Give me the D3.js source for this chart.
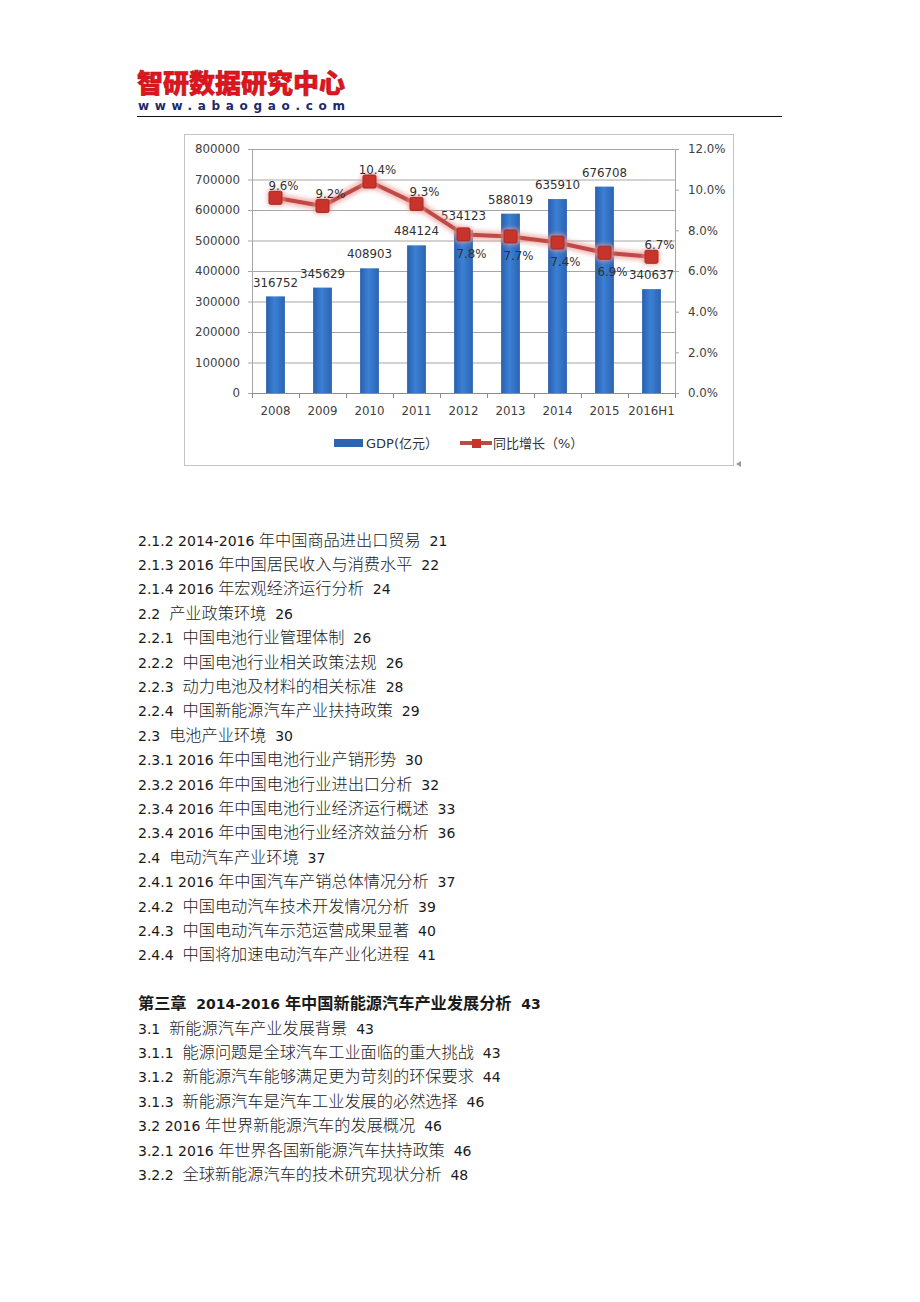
<!DOCTYPE html>
<html>
<head>
<meta charset="utf-8">
<script src="https://cdn.jsdelivr.net/npm/d3@7"></script>
<style>
html,body{margin:0;padding:0;background:#fff;}
svg{display:block;}
</style>
</head>
<body>
<div id="root"></div>
<script>
// ---------- DATA ----------
const brandName = "智研数据研究中心";
const brandUrl = "www.abaogao.com";
const categories = ["2008","2009","2010","2011","2012","2013","2014","2015","2016H1"];
const gdpValues = [316752,345629,408903,484124,534123,588019,635910,676708,340637];
const growthValues = [9.6,9.2,10.4,9.3,7.8,7.7,7.4,6.9,6.7];
const leftTicks = [0,100000,200000,300000,400000,500000,600000,700000,800000];
const rightTicks = [0,2,4,6,8,10,12];
const seriesNames = ["GDP(亿元）","同比增长（%）"];
const tocLines = [
  "2.1.2 2014-2016 年中国商品进出口贸易  21",
  "2.1.3 2016 年中国居民收入与消费水平  22",
  "2.1.4 2016 年宏观经济运行分析  24",
  "2.2  产业政策环境  26",
  "2.2.1  中国电池行业管理体制  26",
  "2.2.2  中国电池行业相关政策法规  26",
  "2.2.3  动力电池及材料的相关标准  28",
  "2.2.4  中国新能源汽车产业扶持政策  29",
  "2.3  电池产业环境  30",
  "2.3.1 2016 年中国电池行业产销形势  30",
  "2.3.2 2016 年中国电池行业进出口分析  32",
  "2.3.4 2016 年中国电池行业经济运行概述  33",
  "2.3.4 2016 年中国电池行业经济效益分析  36",
  "2.4  电动汽车产业环境  37",
  "2.4.1 2016 年中国汽车产销总体情况分析  37",
  "2.4.2  中国电动汽车技术开发情况分析  39",
  "2.4.3  中国电动汽车示范运营成果显著  40",
  "2.4.4  中国将加速电动汽车产业化进程  41",
  "",
  "第三章  2014-2016 年中国新能源汽车产业发展分析  43",
  "3.1  新能源汽车产业发展背景  43",
  "3.1.1  能源问题是全球汽车工业面临的重大挑战  43",
  "3.1.2  新能源汽车能够满足更为苛刻的环保要求  44",
  "3.1.3  新能源汽车是汽车工业发展的必然选择  46",
  "3.2 2016 年世界新能源汽车的发展概况  46",
  "3.2.1 2016 年世界各国新能源汽车扶持政策  46",
  "3.2.2  全球新能源汽车的技术研究现状分析  48"
];

// ---------- DRAW ----------
const W = 920, H = 1302;
const svg = d3.select("#root").append("svg").attr("width", W).attr("height", H)
  .style("font-family", "'DejaVu Sans', 'Noto Sans CJK SC', sans-serif");
const defs = svg.append("defs");

// header
svg.append("text").attr("x", 137).attr("y", 93)
  .attr("textLength", 208).attr("lengthAdjust", "spacingAndGlyphs")
  .style("font-family", "'Noto Sans CJK SC', sans-serif")
  .style("font-size", "26px").style("font-weight", 900)
  .attr("fill", "#e3141c").attr("stroke", "#b0101a").attr("stroke-width", 0.6)
  .text(brandName);
svg.append("text").attr("x", 138).attr("y", 110)
  .attr("textLength", 207).attr("lengthAdjust", "spacing")
  .style("font-size", "12px").style("font-weight", "bold")
  .attr("fill", "#1b2a6b").text(brandUrl);
svg.append("line").attr("x1", 137).attr("x2", 782).attr("y1", 116.5).attr("y2", 116.5)
  .attr("stroke", "#111").attr("stroke-width", 1.2);

// chart frame
svg.append("rect").attr("x", 184.5).attr("y", 134.5).attr("width", 549).attr("height", 331)
  .attr("fill", "#fff").attr("stroke", "#c4c4c4").attr("stroke-width", 1);
svg.append("path").attr("d", "M741,461 L736,464 L741,467 Z").attr("fill", "#9a9a9a");

const plotL = 252, plotR = 675, plotT = 149, plotB = 393;
const x = d3.scaleBand().domain(categories).range([plotL, plotR]).paddingInner(0.6).paddingOuter(0.3);
const yL = d3.scaleLinear().domain([0, 800000]).range([plotB, plotT]);
const yR = d3.scaleLinear().domain([0, 12]).range([plotB, plotT]);
const step = x.step();

// gridlines + left axis
const gL = svg.append("g").attr("transform", `translate(${plotL},0)`)
  .call(d3.axisLeft(yL).tickValues(leftTicks).tickSize(-(plotR - plotL)).tickPadding(12).tickFormat(d3.format("d")));
gL.select(".domain").remove();
gL.selectAll(".tick line").attr("stroke", "#a6a6a6").attr("x1", -4);
gL.selectAll(".tick text").attr("fill", "#404040").style("font-size", "11.8px")
  .style("font-family", "'DejaVu Sans', sans-serif").attr("x", -12);

// vertical axis lines
svg.append("line").attr("x1", plotL + 0.5).attr("x2", plotL + 0.5).attr("y1", plotT).attr("y2", plotB).attr("stroke", "#a6a6a6");
svg.append("line").attr("x1", plotR + 0.5).attr("x2", plotR + 0.5).attr("y1", plotT).attr("y2", plotB).attr("stroke", "#a6a6a6");

// right axis
const gR = svg.append("g").attr("transform", `translate(${plotR},0)`)
  .call(d3.axisRight(yR).tickValues(rightTicks).tickSize(4).tickPadding(9).tickFormat(d => d3.format(".1f")(d) + "%"));
gR.select(".domain").remove();
gR.selectAll(".tick line").attr("stroke", "#a6a6a6");
gR.selectAll(".tick text").attr("fill", "#404040").style("font-size", "11.8px")
  .style("font-family", "'DejaVu Sans', sans-serif");

// bottom axis
const gB = svg.append("g").attr("transform", `translate(0,${plotB})`)
  .call(d3.axisBottom(x).tickSize(0).tickPadding(14));
gB.select(".domain").attr("stroke", "#8c8c8c");
gB.selectAll(".tick text").attr("fill", "#404040").style("font-size", "11.8px")
  .style("font-family", "'DejaVu Sans', sans-serif");
svg.append("g").selectAll("line").data(d3.range(categories.length + 1)).join("line")
  .attr("x1", i => plotL + i * step + 0.5).attr("x2", i => plotL + i * step + 0.5)
  .attr("y1", plotB).attr("y2", plotB + 5).attr("stroke", "#8c8c8c");

// bar gradient
const grad = defs.append("linearGradient").attr("id", "barGrad").attr("x1", "0").attr("x2", "1").attr("y1", "0").attr("y2", "0");
grad.append("stop").attr("offset", "0%").attr("stop-color", "#2a5fae");
grad.append("stop").attr("offset", "45%").attr("stop-color", "#3b80d4");
grad.append("stop").attr("offset", "100%").attr("stop-color", "#2c63b2");

svg.append("g").selectAll("rect").data(gdpValues).join("rect")
  .attr("x", (d, i) => x(categories[i]))
  .attr("y", d => yL(d))
  .attr("width", x.bandwidth())
  .attr("height", d => plotB - yL(d))
  .attr("fill", "url(#barGrad)");

svg.append("g").selectAll("text").data(gdpValues).join("text")
  .attr("x", (d, i) => x(categories[i]) + x.bandwidth() / 2)
  .attr("y", d => yL(d) - 14)
  .attr("dy", "0.35em")
  .attr("text-anchor", "middle")
  .attr("fill", "#303030").style("font-size", "11.8px")
  .text(d => d);

// line glow
const blur = defs.append("filter").attr("id", "glow").attr("x", "-20%").attr("y", "-50%").attr("width", "140%").attr("height", "200%");
blur.append("feGaussianBlur").attr("stdDeviation", 2.2);

const cx = i => x(categories[i]) + x.bandwidth() / 2;
const lineGen = d3.line().x((d, i) => cx(i)).y(d => yR(d));
svg.append("path").datum(growthValues).attr("d", lineGen)
  .attr("fill", "none").attr("stroke", "#e89a94").attr("stroke-width", 9).attr("opacity", 0.7)
  .attr("filter", "url(#glow)");
svg.append("path").datum(growthValues).attr("d", lineGen)
  .attr("fill", "none").attr("stroke", "#bf4a45").attr("stroke-width", 4).attr("stroke-linejoin", "round");

const ms = 13;
svg.append("g").selectAll("rect.glowm").data(growthValues).join("rect")
  .attr("x", (d, i) => cx(i) - ms / 2 - 2).attr("y", d => yR(d) - ms / 2 - 2)
  .attr("width", ms + 4).attr("height", ms + 4).attr("rx", 4)
  .attr("fill", "#e8a09a").attr("opacity", 0.7).attr("filter", "url(#glow)");
svg.append("g").selectAll("rect.mk").data(growthValues).join("rect")
  .attr("x", (d, i) => cx(i) - ms / 2).attr("y", d => yR(d) - ms / 2)
  .attr("width", ms).attr("height", ms).attr("rx", 1.5)
  .attr("fill", "#c8332c").attr("stroke", "#a52a24").attr("stroke-width", 1);

const belowIdx = new Set([4, 5, 6, 7]);
svg.append("g").selectAll("text").data(growthValues).join("text")
  .attr("x", (d, i) => cx(i) + 8)
  .attr("y", (d, i) => yR(d) + (belowIdx.has(i) ? 19 : -12))
  .attr("dy", "0.35em")
  .attr("text-anchor", "middle")
  .attr("fill", "#303030").style("font-size", "11.8px")
  .text(d => d3.format(".1f")(d) + "%");

// legend
svg.append("rect").attr("x", 334).attr("y", 439).attr("width", 29).attr("height", 8).attr("fill", "#2c64b3");
svg.append("text").attr("x", 366).attr("y", 443).attr("dy", "0.35em")
  .attr("fill", "#333").style("font-size", "13px").text(seriesNames[0]);
svg.append("line").attr("x1", 460).attr("x2", 492).attr("y1", 443).attr("y2", 443)
  .attr("stroke", "#bf4a45").attr("stroke-width", 4);
svg.append("rect").attr("x", 472).attr("y", 439).attr("width", 9).attr("height", 9)
  .attr("fill", "#c8332c");
svg.append("text").attr("x", 493).attr("y", 443).attr("dy", "0.35em")
  .attr("fill", "#333").style("font-size", "13px").text(seriesNames[1]);

// ---------- TOC text ----------
const isCJK = ch => /[\u3000-\u9fff\uff00-\uffef]/.test(ch);
function runs(s) {
  const out = [];
  for (const ch of s) {
    const c = isCJK(ch);
    if (out.length && out[out.length - 1].cjk === c) out[out.length - 1].t += ch;
    else out.push({ t: ch, cjk: c });
  }
  return out;
}
const tocTop = 540, tocGap = 24.4;
const toc = svg.append("g");
tocLines.forEach((line, i) => {
  if (!line) return;
  const bold = line.startsWith("第");
  const t = toc.append("text").attr("x", 138).attr("y", tocTop + i * tocGap + 5.5)
    .style("white-space", "pre").attr("fill", "#1a1a1a")
    .style("font-weight", bold ? "bold" : "normal");
  runs(line).forEach(r => {
    t.append("tspan").text(r.t)
      .style("font-family", r.cjk ? "'Noto Sans CJK SC', sans-serif" : "'DejaVu Sans', sans-serif")
      .style("font-size", r.cjk ? "16.2px" : "14px")
      .style("font-weight", bold ? "bold" : (r.cjk ? 300 : "normal"));
  });
});
</script>
</body>
</html>
